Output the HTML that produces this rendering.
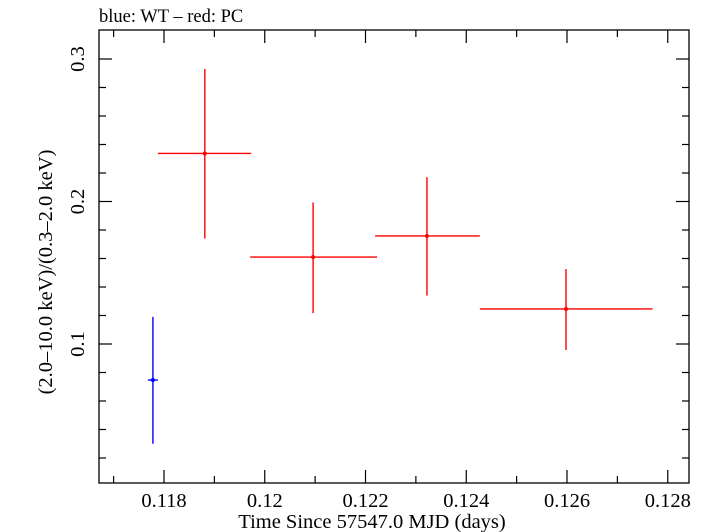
<!DOCTYPE html>
<html><head><meta charset="utf-8"><style>
body{margin:0;background:#fff;}
svg{display:block;font-family:"Liberation Serif",serif;}
</style></head><body>
<svg id="chart" width="705" height="532" viewBox="0 0 705 532">
<text x="99" y="22" font-size="18.5">blue: WT – red: PC</text>
<rect x="99" y="30" width="590" height="453" fill="none" stroke="#000" stroke-width="1.3"/>
<g id="axes"></g>
<g id="marks"></g>
<text x="372" y="528" font-size="20.5" text-anchor="middle">Time Since 57547.0 MJD (days)</text>
<text transform="translate(52,272) rotate(-90)" font-size="20.5" text-anchor="middle">(2.0–10.0 keV)/(0.3–2.0 keV)</text>
</svg>
<script>
const xTicks=[0.118,0.12,0.122,0.124,0.126,0.128];
const xTickLabels=["0.118","0.12","0.122","0.124","0.126","0.128"];
const yTicks=[0.1,0.2,0.3];
const yTickLabels=["0.1","0.2","0.3"];
const wtX=[0.11778],wtXlo=[0.11768],wtXhi=[0.11788],wtY=[0.0747],wtYlo=[0.030],wtYhi=[0.119];
const pcX=[0.11881,0.12096,0.12322,0.12598];
const pcXlo=[0.11788,0.11971,0.12219,0.12427];
const pcXhi=[0.11973,0.12223,0.12427,0.12770];
const pcY=[0.2337,0.161,0.1758,0.1246];
const pcYlo=[0.174,0.1217,0.134,0.0958];
const pcYhi=[0.293,0.1993,0.217,0.1526];

const L=99,R=689,T=30,B=483;
const X0=0.118,XPX0=164,XS=100.75/0.002;
const Y0=0.1,YPX0=344,YS=142.5/0.1;
const xs=v=>XPX0+(v-X0)*XS;
const ys=v=>YPX0-(v-Y0)*YS;
const NS="http://www.w3.org/2000/svg";
function mk(tag,attrs,parent){const e=document.createElementNS(NS,tag);for(const k in attrs)e.setAttribute(k,attrs[k]);parent.appendChild(e);return e;}
const ax=document.getElementById('axes'),mg=document.getElementById('marks');
for(let i=-1;i<=11;i++){const v=0.117+i*0.001;const px=xs(v);if(px<=L+1||px>=R-1)continue;
 const major=xTicks.some(t=>Math.abs(t-v)<1e-7);const len=major?13:7;
 let t=mk('line',{x1:px,x2:px,y1:B,y2:B-len,stroke:'#000','stroke-width':1.2},ax);
 
 t=mk('line',{x1:px,x2:px,y1:T,y2:T+len,stroke:'#000','stroke-width':1.2},ax);
 }
xTicks.forEach((v,i)=>{const t=mk('text',{x:xs(v),y:507,'font-size':20.5,'text-anchor':'middle'},ax);t.textContent=xTickLabels[i];
 });
for(let i=0;i<=16;i++){const v=0.0+i*0.02;const py=ys(v);if(py>=B-1||py<=T+1)continue;
 const major=yTicks.some(t=>Math.abs(t-v)<1e-7);const len=major?13:7;
 let t=mk('line',{x1:L,x2:L+len,y1:py,y2:py,stroke:'#000','stroke-width':1.2},ax);
 
 t=mk('line',{x1:R,x2:R-len,y1:py,y2:py,stroke:'#000','stroke-width':1.2},ax);
 }
yTicks.forEach((v,i)=>{const t=mk('text',{transform:`translate(84,${ys(v)}) rotate(-90)`,'font-size':20.5,'text-anchor':'middle'},ax);t.textContent=yTickLabels[i];
 });
function series(X,Xlo,Xhi,Y,Ylo,Yhi,col,name){
 X.forEach((x,i)=>{const g=mk('g',{},mg);
  
  mk('line',{x1:xs(Xlo[i]),x2:xs(Xhi[i]),y1:ys(Y[i]),y2:ys(Y[i]),stroke:col,'stroke-width':1.4},g);
  mk('line',{x1:xs(x),x2:xs(x),y1:ys(Ylo[i]),y2:ys(Yhi[i]),stroke:col,'stroke-width':1.4},g);
  mk('circle',{cx:xs(x),cy:ys(Y[i]),r:2,fill:col},g);});}
series(wtX,wtXlo,wtXhi,wtY,wtYlo,wtYhi,'#0000ff','wt');
series(pcX,pcXlo,pcXhi,pcY,pcYlo,pcYhi,'#ff0000','pc');
</script>
</body></html>
